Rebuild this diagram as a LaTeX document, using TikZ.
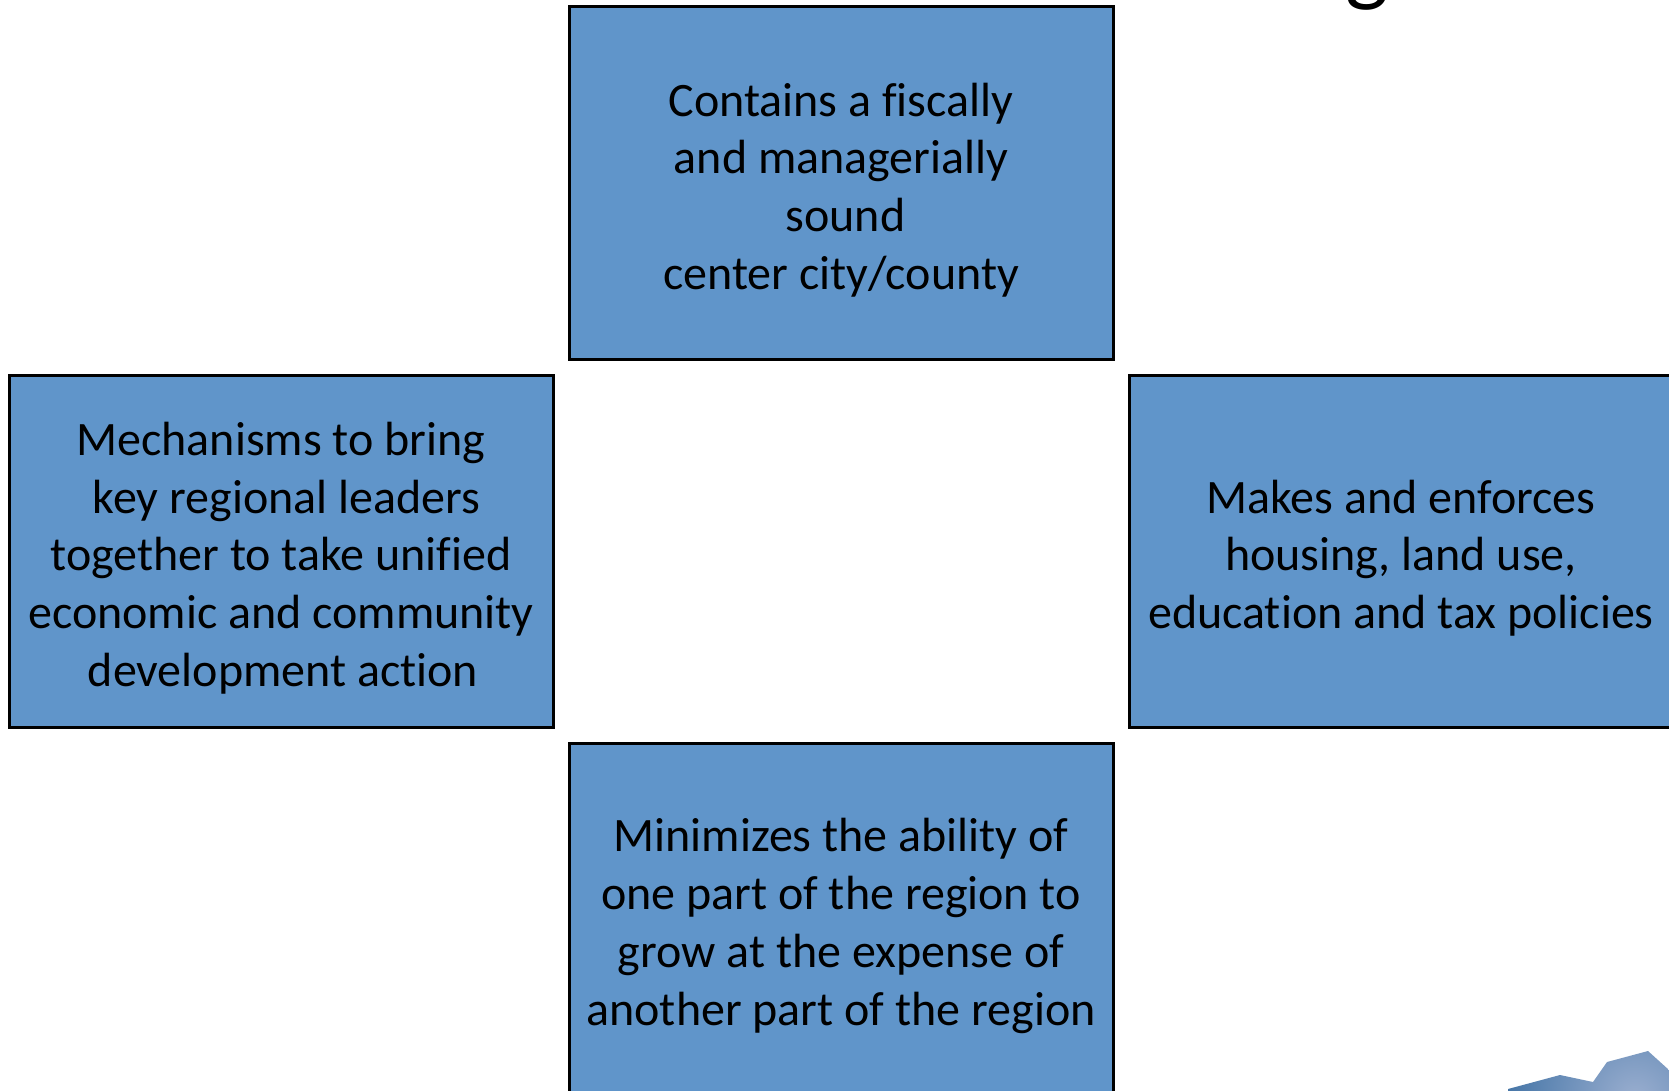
\documentclass[tikz,border=0pt]{standalone}
\usepackage{fontspec}
\setmainfont[Ligatures=NoCommon]{Carlito}
\begin{document}
\begin{tikzpicture}[x=1pt,y=-1pt,
  panel/.style={draw=black,line width=3pt,fill=boxblue},
  label/.style={align=center,inner sep=0pt,font=\fontsize{48}{57.8}\selectfont,text=black}]
\definecolor{boxblue}{RGB}{96,149,202}
\useasboundingbox (0,0) rectangle (1669,1091);
\begin{scope}
\clip (0,0) rectangle (1669,1091);
\fill[white] (0,0) rectangle (1669,1091);
\node[anchor=base,inner sep=0pt,font=\fontsize{92}{92}\selectfont] (titletail) at (1367,-5) {g};
\draw[panel] (569,7) rectangle (1113,359);
\draw[panel] (9,375) rectangle (553,727);
\draw[panel] (1129,375) rectangle (1680,727);
\draw[panel] (569,743) rectangle (1113,1110);
\begin{scope}
\clip (1508,1089) -- (1560,1075) -- (1593,1082) -- (1607,1062) -- (1648,1051) -- (1669,1070) -- (1669,1091) -- (1508,1091) -- cycle;
\shade[outer color={rgb,255:red,66;green,115;blue,165},inner color={rgb,255:red,155;green,175;blue,208}] (1635,1100) circle (135);
\end{scope}
\end{scope}
\node[label] (top) at (841,190) {Contains a fiscally\\and managerially\\\hspace*{9pt}sound\\center city/county};
\node[label] (left) at (281,558) {Mechanisms to bring\\\hspace*{11pt}key regional leaders\\together to take unified\\economic and community\\\hspace*{4pt}development action};
\node[label] (right) at (1401,558) {Makes and enforces\\housing, land use,\\education and tax policies};
\node[label] (bottom) at (841,926) {Minimizes the ability of\\one part of the region to\\grow at the expense of\\another part of the region};
\end{tikzpicture}
\end{document}
